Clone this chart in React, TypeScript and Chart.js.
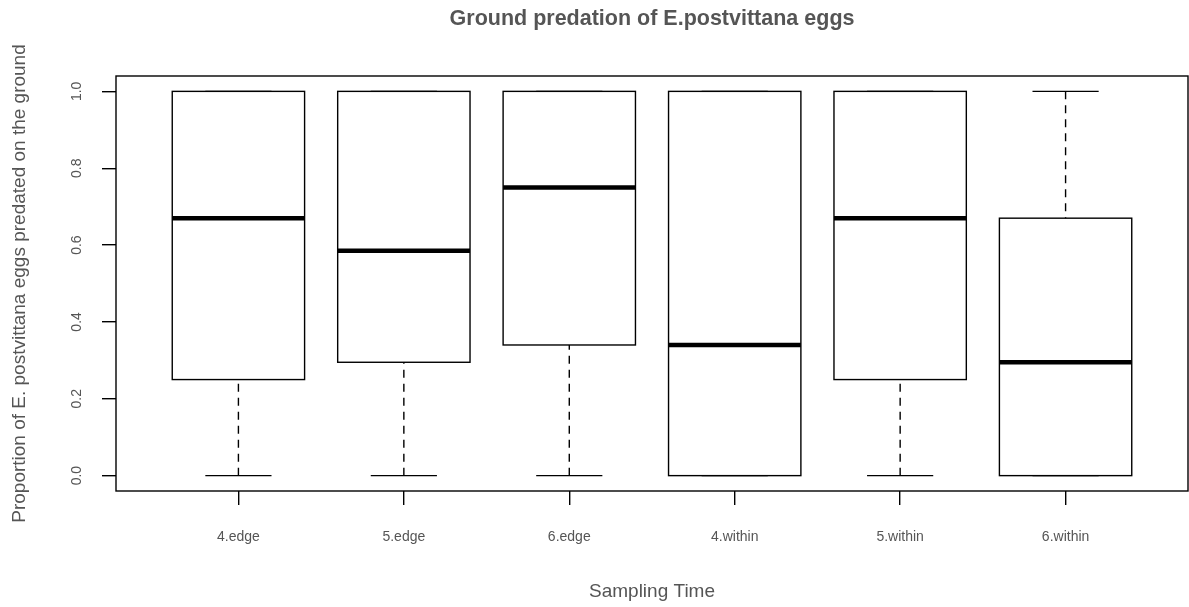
import React, { useEffect, useRef } from "react";
import { Chart, registerables } from "chart.js";

Chart.register(...registerables);

const categories = ["4.edge", "5.edge", "6.edge", "4.within", "5.within", "6.within"];
const whiskerLow = [0, 0, 0, 0, 0, 0];
const quartile1 = [0.25, 0.295, 0.34, 0, 0.25, 0];
const medians = [0.67, 0.585, 0.75, 0.34, 0.67, 0.295];
const quartile3 = [1, 1, 1, 1, 1, 0.67];
const whiskerHigh = [1, 1, 1, 1, 1, 1];
const yTicks = [0, 0.2, 0.4, 0.6, 0.8, 1.0];

const chartTitle = "Ground predation of E.postvittana eggs";
const xTitle = "Sampling Time";
const yTitle = "Proportion of E. postvittana eggs predated on the ground";

const FONT = "'Liberation Sans', Arial, Helvetica, sans-serif";
const TEXT = "#555555";

const boxPlugin = {
  id: "rBoxes",
  afterDatasetsDraw(chart: any) {
    const { ctx, chartArea } = chart;
    const x = chart.scales.x;
    const y = chart.scales.y;
    ctx.save();
    ctx.strokeStyle = "#000";
    categories.forEach((_, i) => {
      const pos = i + 1;
      const xc = x.getPixelForValue(pos);
      const bl = x.getPixelForValue(pos - 0.4);
      const br = x.getPixelForValue(pos + 0.4);
      const cl = x.getPixelForValue(pos - 0.2);
      const cr = x.getPixelForValue(pos + 0.2);
      const yLo = y.getPixelForValue(whiskerLow[i]);
      const yQ1 = y.getPixelForValue(quartile1[i]);
      const yMed = y.getPixelForValue(medians[i]);
      const yQ3 = y.getPixelForValue(quartile3[i]);
      const yHi = y.getPixelForValue(whiskerHigh[i]);

      // whiskers (dashed), drawn from whisker end toward box
      ctx.lineWidth = 1.4;
      ctx.setLineDash([8, 6]);
      ctx.beginPath();
      if (Math.abs(yLo - yQ1) > 0.5) {
        ctx.moveTo(xc, yLo);
        ctx.lineTo(xc, yQ1);
      }
      if (Math.abs(yHi - yQ3) > 0.5) {
        ctx.moveTo(xc, yHi);
        ctx.lineTo(xc, yQ3);
      }
      ctx.stroke();
      ctx.setLineDash([]);

      // caps
      ctx.beginPath();
      ctx.moveTo(cl, yLo);
      ctx.lineTo(cr, yLo);
      ctx.moveTo(cl, yHi);
      ctx.lineTo(cr, yHi);
      ctx.stroke();

      // box
      ctx.lineWidth = 1.4;
      ctx.strokeRect(bl, yQ3, br - bl, yQ1 - yQ3);

      // median
      ctx.lineWidth = 4.5;
      ctx.lineCap = "butt";
      ctx.beginPath();
      ctx.moveTo(bl, yMed);
      ctx.lineTo(br, yMed);
      ctx.stroke();
    });

    // plot frame
    ctx.lineWidth = 1.4;
    ctx.strokeRect(
      chartArea.left,
      chartArea.top,
      chartArea.right - chartArea.left,
      chartArea.bottom - chartArea.top
    );

    // main title, centred over the plot region
    ctx.fillStyle = TEXT;
    ctx.font = `bold 21.5px ${FONT}`;
    ctx.textAlign = "center";
    ctx.textBaseline = "middle";
    ctx.fillText(chartTitle, (chartArea.left + chartArea.right) / 2, 19);
    ctx.restore();
  },
};

export default function App() {
  const canvasRef = useRef<HTMLCanvasElement | null>(null);

  useEffect(() => {
    document.body.style.margin = "0";
    const canvas = canvasRef.current;
    if (!canvas) return;
    Chart.defaults.font.family = FONT;

    const chart = new Chart(canvas, {
      type: "scatter",
      data: {
        datasets: [
          {
            data: medians.map((m, i) => ({ x: i + 1, y: m })),
            pointRadius: 0,
            pointHoverRadius: 0,
            showLine: false,
          },
        ],
      },
      options: {
        animation: false,
        responsive: false,
        events: [],
        layout: {
          padding: { left: 0, right: 1, top: 76, bottom: 0 },
          autoPadding: false,
        } as any,
        plugins: {
          legend: { display: false },
          tooltip: { enabled: false },
          title: { display: false },
        },
        scales: {
          x: {
            type: "linear",
            min: 0.26,
            max: 6.74,
            afterBuildTicks: (s: any) => {
              s.ticks = categories.map((_, i) => ({ value: i + 1 }));
            },
            afterFit: (s: any) => {
              s.height = 116;
            },
            ticks: {
              callback: (v: any) => categories[Math.round(Number(v)) - 1] ?? "",
              color: TEXT,
              font: { family: FONT, size: 14 },
              padding: 23.6,
              maxRotation: 0,
              minRotation: 0,
              autoSkip: false,
            },
            grid: {
              drawOnChartArea: false,
              drawTicks: true,
              tickLength: 14,
              color: "#000",
              lineWidth: 1.4,
            },
            border: { display: false },
            title: {
              display: true,
              text: xTitle,
              color: TEXT,
              font: { family: FONT, size: 19 },
              padding: { top: 0, bottom: 4 },
            },
          },
          y: {
            type: "linear",
            min: -0.04,
            max: 1.04,
            afterBuildTicks: (s: any) => {
              s.ticks = yTicks.map((v) => ({ value: v }));
            },
            afterFit: (s: any) => {
              s.width = 116;
            },
            ticks: {
              callback: (v: any) => Number(v).toFixed(1),
              color: TEXT,
              font: { family: FONT, size: 14 },
              padding: 14.75,
              minRotation: 90,
              maxRotation: 90,
              crossAlign: "center",
              autoSkip: false,
            },
            grid: {
              drawOnChartArea: false,
              drawTicks: true,
              tickLength: 14,
              color: "#000",
              lineWidth: 1.4,
            },
            border: { display: false },
            title: {
              display: true,
              text: yTitle,
              color: TEXT,
              font: { family: FONT, size: 19 },
              padding: { top: 8, bottom: 0 },
            },
          },
        },
      } as any,
      plugins: [boxPlugin],
    });

    return () => {
      chart.destroy();
    };
  }, []);

  return (
    <div style={{ width: 1189, height: 607, background: "#fff" }}>
      <canvas ref={canvasRef} width={1189} height={607} style={{ display: "block" }} />
    </div>
  );
}
